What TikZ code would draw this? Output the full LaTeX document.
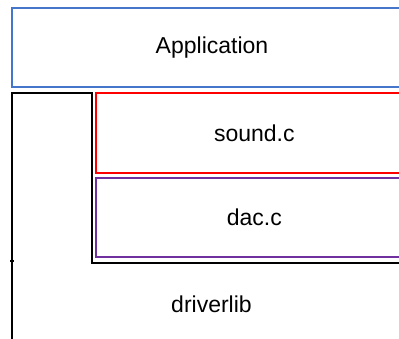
\documentclass[tikz,border=0pt]{standalone}
\usepackage{fontspec}
\setmainfont{Liberation Sans}
\definecolor{appblue}{HTML}{4477CC}
\definecolor{soundred}{HTML}{FF0000}
\definecolor{dacpurple}{HTML}{7030A0}
\begin{document}
\begin{tikzpicture}[x=1pt,y=-1pt,
  layerbox/.style={draw,line width=1.8pt,rectangle,inner sep=0pt,
    font=\fontsize{23}{27}\selectfont,text=black},
  lbl/.style={font=\fontsize{23}{27}\selectfont,inner sep=0pt}]
\useasboundingbox (0,0) rectangle (399,339);
\clip (0,0) rectangle (399,339);
\node[layerbox,draw=appblue,minimum width=400pt,minimum height=79pt] (app) at (212,47.6) {Application};
\node[layerbox,draw=soundred,minimum width=316pt,minimum height=80pt] (sound) at (254.3,133) {sound.c};
\node[layerbox,draw=dacpurple,minimum width=316pt,minimum height=79.5pt] (dac) at (254.3,217.5) {dac.c};
\node[lbl] (drv) at (211.5,304) {driverlib};
\coordinate (lb) at (12,360);
\coordinate (lt) at (12,93.3);
\coordinate (ct) at (92,93.3);
\coordinate (cb) at (92,262.8);
\coordinate (rb) at (430,262.8);
\draw[line width=1.8pt,line join=miter] (lb) -- (lt) -- (ct) -- (cb) -- (rb);
\draw[line width=1.2pt] (10.2,261) -- (13.8,261);
\end{tikzpicture}
\end{document}
